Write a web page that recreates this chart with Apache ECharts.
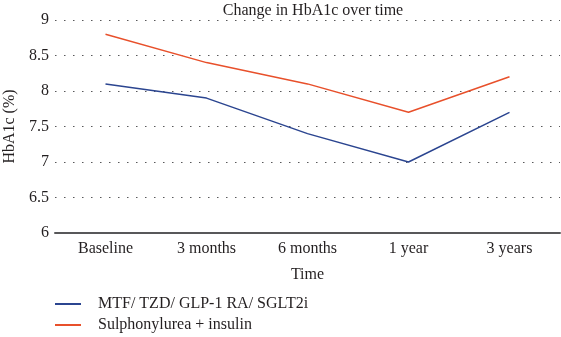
<!DOCTYPE html>
<html>
<head>
<meta charset="utf-8">
<script src="https://cdn.jsdelivr.net/npm/echarts@6/dist/echarts.min.js"></script>
<style>
  html, body { margin: 0; padding: 0; background: #fff; }
  #chart { width: 561px; height: 337px; }
</style>
</head>
<body>
<div id="chart"></div>
<script>
// 数据
const categories = ['Baseline', '3 months', '6 months', '1 year', '3 years']
const mtfValues = [8.1, 7.9, 7.4, 7.0, 7.7]
const suValues = [8.8, 8.4, 8.1, 7.7, 8.2]
const seriesNames = ['MTF/ TZD/ GLP-1 RA/ SGLT2i', 'Sulphonylurea + insulin']

const font = 'Liberation Serif, Times New Roman, serif'
const textColor = '#231f20'
const chart = echarts.init(document.getElementById('chart'))

chart.setOption({
  animation: false,
  title: {
    text: 'Change in HbA1c over time',
    left: 308,
    textAlign: 'center',
    top: -2,
    textStyle: { fontFamily: font, fontSize: 16, fontWeight: 'normal', color: textColor }
  },
  legend: {
    orient: 'vertical',
    left: 55,
    top: 296,
    padding: 0,
    itemWidth: 26,
    itemHeight: 2,
    itemGap: 5,
    icon: 'rect',
    textStyle: { fontFamily: font, fontSize: 16, color: textColor, padding: [0, 0, 0, 12] },
    data: seriesNames
  },
  grid: {
    left: 55,
    right: 1,
    top: 20,
    height: 213,
    outerBoundsMode: 'none'
  },
  xAxis: {
    type: 'category',
    data: categories,
    boundaryGap: true,
    name: 'Time',
    nameLocation: 'middle',
    nameGap: 34,
    nameTextStyle: { fontFamily: font, fontSize: 16, color: textColor },
    axisLine: { lineStyle: { color: '#58585a', width: 2 } },
    axisTick: { show: false },
    axisLabel: { fontFamily: font, fontSize: 16, color: textColor, margin: 8 }
  },
  yAxis: {
    type: 'value',
    min: 6,
    max: 9,
    interval: 0.5,
    name: 'HbA1c (%)',
    nameLocation: 'middle',
    nameGap: 37,
    nameTextStyle: { fontFamily: font, fontSize: 16, color: textColor },
    axisLine: { show: false },
    axisTick: { show: false },
    axisLabel: { fontFamily: font, fontSize: 16, color: textColor, margin: 6 },
    splitLine: { lineStyle: { color: '#58585a', type: [1.5, 7.5], width: 1.2 } }
  },
  series: [
    {
      name: seriesNames[0],
      type: 'line',
      data: mtfValues,
      symbol: 'none',
      lineStyle: { color: '#2b4590', width: 1.5 },
      itemStyle: { color: '#2b4590' }
    },
    {
      name: seriesNames[1],
      type: 'line',
      data: suValues,
      symbol: 'none',
      lineStyle: { color: '#e8502b', width: 1.5 },
      itemStyle: { color: '#e8502b' }
    }
  ]
})
</script>
</body>
</html>
